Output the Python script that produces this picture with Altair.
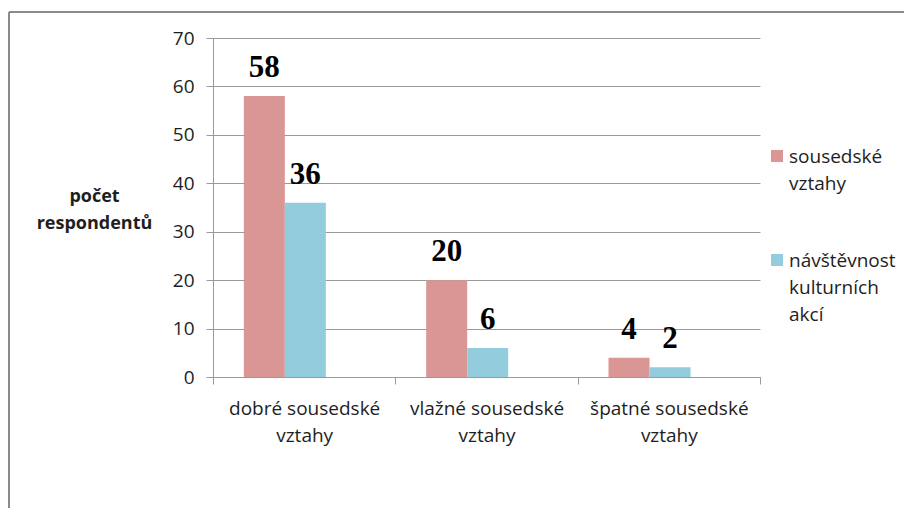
import altair as alt
import pandas as pd

# ---- data ----
categories = ["dobré sousedské vztahy", "vlažné sousedské vztahy", "špatné sousedské vztahy"]
series = ["sousedské vztahy", "návštěvnost kulturních akcí"]
vals_sousedske = [58, 20, 4]
vals_navstevnost = [36, 6, 2]
y_ticks = [0, 10, 20, 30, 40, 50, 60, 70]
colors = ["#D99694", "#93CDDD"]
# Excel reserves an (empty) third series slot in each group
offset_slots = series + ["(prázdná)"]

rows = []
for i, c in enumerate(categories):
    rows.append({"kategorie": c, "serie": series[0], "pocet": vals_sousedske[i]})
    rows.append({"kategorie": c, "serie": series[1], "pocet": vals_navstevnost[i]})
df = pd.DataFrame(rows)
legend_df = pd.DataFrame({"serie": series})

FONT = "Open Sans"
GRID = "#9a9a9a"
TXT = "#1e1e1e"

color_scale = alt.Scale(domain=series, range=colors)

x_enc = alt.X(
    "kategorie:N",
    sort=categories,
    scale=alt.Scale(paddingInner=0, paddingOuter=0),
    axis=alt.Axis(
        title=None,
        labelAngle=0,
        tickBand="extent",
        grid=False,
        domainColor=GRID,
        tickColor=GRID,
        tickSize=7,
        labelPadding=15,
        labelFont=FONT,
        labelFontSize=19,
        labelColor=TXT,
        labelBaseline="top",
        labelLineHeight=27,
        labelLimit=300,
        labelExpr="[slice(datum.label, 0, lastindexof(datum.label, ' ')), slice(datum.label, lastindexof(datum.label, ' ') + 1)]",
    ),
)
xoff_scale = alt.Scale(domain=offset_slots, paddingInner=0, paddingOuter=0.723, align=0.52)
y_enc = alt.Y(
    "pocet:Q",
    scale=alt.Scale(domain=[0, 70], nice=False, zero=True),
    axis=alt.Axis(
        values=y_ticks,
        title=["počet", "respondentů"],
        titleAngle=0,
        titleAlign="center",
        titleBaseline="alphabetic",
        titleX=-119,
        titleY=163,
        titleFont=FONT,
        titleFontSize=18,
        titleFontWeight="bold",
        titleColor=TXT,
        titleLineHeight=27,
        grid=True,
        gridColor=GRID,
        domainColor=GRID,
        tickColor=GRID,
        tickSize=7,
        labelPadding=12,
        labelFont=FONT,
        labelFontSize=19,
        labelColor=TXT,
    ),
)

bars = alt.Chart(df).mark_bar().encode(
    x=x_enc,
    xOffset=alt.XOffset("serie:N", scale=xoff_scale),
    y=y_enc,
    color=alt.Color("serie:N", scale=color_scale, legend=None),
)

labels = alt.Chart(df).mark_text(
    font="Liberation Serif",
    fontSize=31,
    fontWeight="bold",
    color="#000000",
    baseline="alphabetic",
    dy=-19,
).encode(
    x=alt.X("kategorie:N", sort=categories),
    xOffset=alt.XOffset("serie:N", scale=xoff_scale),
    y=alt.Y("pocet:Q"),
    text=alt.Text("pocet:Q"),
)

# legend drawn as its own small layer (multi-line labels with Excel-like spacing)
leg_y = alt.Y("serie:N", sort=series,
              scale=alt.Scale(domain=series, range=[118, 222], padding=0), axis=None)
leg_swatch = alt.Chart(legend_df).mark_square(size=144, opacity=1).encode(
    x=alt.value(564),
    y=leg_y,
    color=alt.Color("serie:N", scale=color_scale, legend=None),
)
leg_text = alt.Chart(legend_df).transform_calculate(
    lines="split(datum.serie, ' ')"
).mark_text(
    font=FONT, fontSize=19, color=TXT, align="left", baseline="alphabetic",
    lineHeight=27, dy=7,
).encode(
    x=alt.value(576),
    y=leg_y,
    text=alt.Text("lines:N"),
)
legend_layer = alt.layer(leg_swatch, leg_text)

frame_df = pd.DataFrame({"f": [0]})
frame_top = alt.Chart(frame_df).mark_rule(color="#8a8a8a", strokeWidth=2).encode(
    x=alt.value(-204), x2=alt.value(700), y=alt.value(-26)
)
frame_left = alt.Chart(frame_df).mark_rule(color="#8a8a8a", strokeWidth=2).encode(
    x=alt.value(-204), y=alt.value(-26), y2=alt.value(480)
)

chart = (
    alt.layer(frame_top, frame_left, alt.layer(bars, labels), legend_layer)
    .resolve_scale(y="independent")
    .properties(
        width=547,
        height=339,
        autosize="none",
        padding={"left": 205, "top": 30, "right": 144, "bottom": 131},
    )
    .configure_view(stroke=None)
)

chart.save("out.html", embed_options={"renderer": "svg", "actions": False})
